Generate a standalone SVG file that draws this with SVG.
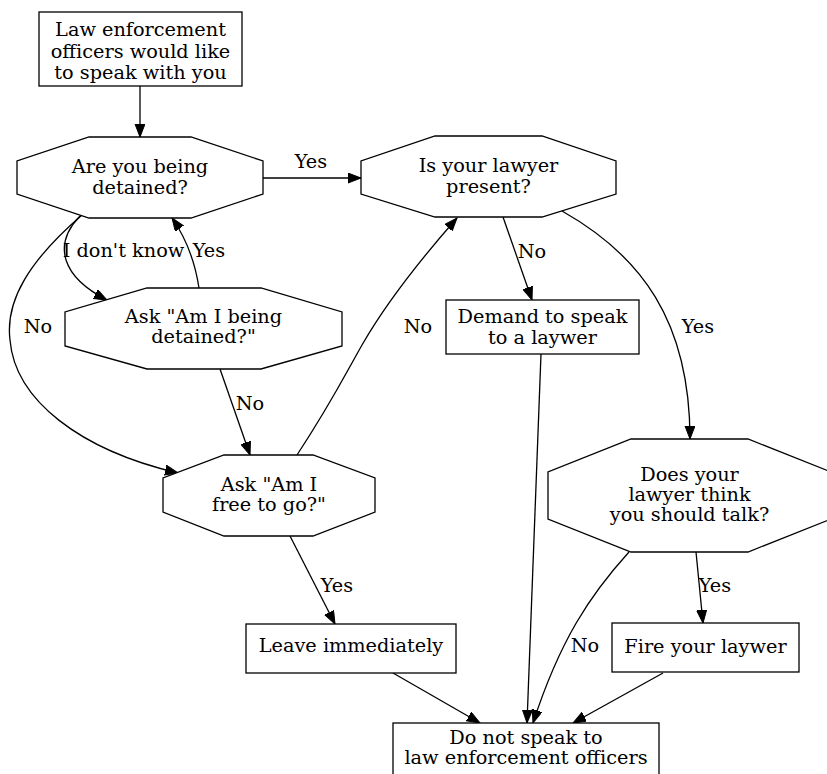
<svg xmlns="http://www.w3.org/2000/svg" width="827" height="774" viewBox="0 0 827 774">
<style>
.n{fill:#fff;stroke:#000;stroke-width:1.3}
.e{fill:none;stroke:#000;stroke-width:1.3;marker-end:url(#ah)}
text{font-family:"DejaVu Serif","Liberation Serif",serif;font-size:19.3px;fill:#000;text-anchor:middle}
</style>
<defs>
<marker id="ah" markerUnits="userSpaceOnUse" markerWidth="14" markerHeight="11" refX="13" refY="5" orient="auto">
<polygon points="0,0 13,5 0,10" fill="#000" stroke="#000" stroke-width="1"/>
</marker>
</defs>
<rect width="827" height="774" fill="#fff"/>
<g id="connectors">
<path class="e" d="M140,86 L140,137"/>
<path class="e" d="M263,178 L361,178"/>
<path class="e" d="M80,216 C52,245 62,277 107,300"/>
<path class="e" d="M199,288 C195,262 186,238 172,218"/>
<path class="e" d="M82,215 C30,260 5,300 10,340 C15,400 80,450 178,473"/>
<path class="e" d="M220,369 L250,455"/>
<path class="e" d="M297,455 C330,405 345,375 362,345 C385,305 420,260 457,218"/>
<path class="e" d="M503,217 L532,300"/>
<path class="e" d="M562,211 C640,255 690,320 690,439"/>
<path class="e" d="M541,354 L527,723"/>
<path class="e" d="M629,552 C590,595 560,640 533,723"/>
<path class="e" d="M696,552 L703,623"/>
<path class="e" d="M290,536 L335,624"/>
<path class="e" d="M393,673 L480,723"/>
<path class="e" d="M663,673 L573,723"/>
<text x="311" y="168">Yes</text>
<text x="123.5" y="257">I don't know</text>
<text x="209" y="257">Yes</text>
<text x="38" y="333">No</text>
<text x="250" y="410">No</text>
<text x="418" y="333">No</text>
<text x="532" y="258">No</text>
<text x="698" y="333">Yes</text>
<text x="585" y="652">No</text>
<text x="715" y="592">Yes</text>
<text x="337" y="592">Yes</text>
</g>
<g id="law">
<rect class="n" x="39" y="12" width="203" height="74"/>
<text x="140.5" y="36">Law enforcement</text>
<text x="140.5" y="57.5">officers would like</text>
<text x="140.5" y="79">to speak with you</text>
</g>
<g id="detained">
<polygon class="n" points="89,137 191,137 263,161 263,194 191,218 89,218 17,194 17,161"/>
<text x="140" y="173">Are you being</text>
<text x="140" y="194">detained?</text>
</g>
<g id="lawyer_present">
<polygon class="n" points="435,136 542,136 616,161 616,194 542,217 435,217 361,194 361,161"/>
<text x="488.5" y="172">Is your lawyer</text>
<text x="488.5" y="193">present?</text>
</g>
<g id="ask_detained">
<polygon class="n" points="147,288 261,288 342,312 342,346 261,369 147,369 65,346 65,312"/>
<text x="203.5" y="323">Ask "Am I being</text>
<text x="203.5" y="343">detained?"</text>
</g>
<g id="demand">
<rect class="n" x="446" y="300" width="193" height="54"/>
<text x="542.5" y="323">Demand to speak</text>
<text x="542.5" y="344">to a laywer</text>
</g>
<g id="ask_free">
<polygon class="n" points="224,455 313,455 375,478 375,512 313,536 224,536 163,512 163,478"/>
<text x="269" y="491">Ask "Am I</text>
<text x="269" y="511">free to go?"</text>
</g>
<g id="should_talk">
<polygon class="n" points="631,439 748,439 831,472 831,519 748,552 631,552 548,519 548,472"/>
<text x="689.5" y="481">Does your</text>
<text x="689.5" y="501">lawyer think</text>
<text x="689.5" y="521">you should talk?</text>
</g>
<g id="leave">
<rect class="n" x="246" y="624" width="210" height="49"/>
<text x="351" y="652">Leave immediately</text>
</g>
<g id="fire">
<rect class="n" x="612" y="623" width="187" height="49"/>
<text x="705.5" y="653">Fire your laywer</text>
</g>
<g id="do_not">
<rect class="n" x="393" y="723" width="266" height="52"/>
<text x="526" y="744">Do not speak to</text>
<text x="526" y="764">law enforcement officers</text>
</g>
</svg>
